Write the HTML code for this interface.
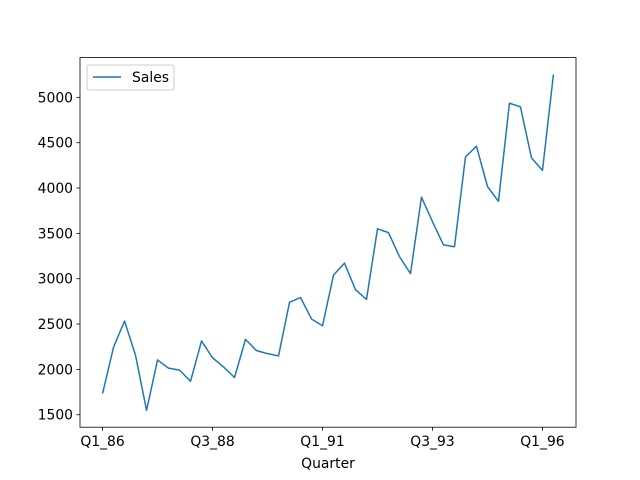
<!DOCTYPE html>
<html><head><meta charset="utf-8"><style>body{margin:0;background:#fff}svg{display:block;font-family:"DejaVu Sans","Liberation Sans",sans-serif}</style></head>
<body>
<svg id="chart" width="640" height="480">
<rect x="0" y="0" width="640" height="480" fill="#fff"/>
<g id="plot"></g>
</svg>
<script>
const categories = ["Q1_86","Q2_86","Q3_86","Q4_86","Q1_87","Q2_87","Q3_87","Q4_87","Q1_88","Q2_88","Q3_88","Q4_88","Q1_89","Q2_89","Q3_89","Q4_89","Q1_90","Q2_90","Q3_90","Q4_90","Q1_91","Q2_91","Q3_91","Q4_91","Q1_92","Q2_92","Q3_92","Q4_92","Q1_93","Q2_93","Q3_93","Q4_93","Q1_94","Q2_94","Q3_94","Q4_94","Q1_95","Q2_95","Q3_95","Q4_95","Q1_96","Q2_96"];
const sales = [1734.83,2244.96,2533.80,2154.96,1547.82,2104.41,2014.36,1991.75,1869.05,2313.63,2128.32,2026.83,1910.60,2331.16,2206.55,2173.97,2148.28,2739.31,2792.75,2556.01,2480.97,3039.52,3172.12,2879.00,2772.00,3550.00,3508.00,3243.86,3056.00,3899.00,3629.00,3373.00,3352.00,4342.00,4461.00,4017.00,3854.00,4936.00,4895.00,4333.00,4194.00,5253.00];
const yTicks = [1500,2000,2500,3000,3500,4000,4500,5000];
const xTickIdx = [0,10,20,30,40];

const L=80,R=576,T=57.6,B=427.2;
const n=categories.length;
const xmin=-(n-1)*0.05, xmax=(n-1)*1.05;
let ymn=Math.min(...sales), ymx=Math.max(...sales);
const pad=(ymx-ymn)*0.05; const ylo=ymn-pad, yhi=ymx+pad;
const xs=i=>L+(i-xmin)/(xmax-xmin)*(R-L);
const ys=v=>B-(v-ylo)/(yhi-ylo)*(B-T);
const NS="http://www.w3.org/2000/svg";
const g=document.getElementById('plot');
function mk(t,a,txt){const e=document.createElementNS(NS,t);for(const k in a)e.setAttribute(k,a[k]);if(txt!==undefined)e.textContent=txt;g.appendChild(e);return e;}

let d=sales.map((v,i)=>(i?'L':'M')+xs(i).toFixed(2)+','+ys(v).toFixed(2)).join('');
const line=mk('path',{d:d,fill:'none',stroke:'#1f77b4','stroke-width':1.5,'stroke-linejoin':'round'});



const frame=mk('rect',{x:L,y:T,width:R-L,height:B-T,fill:'none',stroke:'#000','stroke-width':0.8});



yTicks.forEach(v=>{const y=ys(v);
mk('line',{x1:L-3.5,x2:L,y1:y,y2:y,stroke:'#000','stroke-width':0.8});
const t=mk('text',{x:L-7,y:y+5,'text-anchor':'end','font-size':13.9},String(v));

});

xTickIdx.forEach(i=>{const x=xs(i);
mk('line',{x1:x,x2:x,y1:B,y2:B+3.5,stroke:'#000','stroke-width':0.8});
const t=mk('text',{x:x,y:B+19,'text-anchor':'middle','font-size':13.9},categories[i]);

});

const xt=mk('text',{x:(L+R)/2,y:468,'text-anchor':'middle','font-size':13.9},'Quarter');



const lg=mk('rect',{x:87,y:65,width:87,height:25,rx:2,fill:'#fff',stroke:'#ccc','stroke-width':1});


mk('line',{x1:93,x2:121,y1:77,y2:77,stroke:'#1f77b4','stroke-width':1.5});
const lt=mk('text',{x:132,y:82,'font-size':13.9},'Sales');


</script>
</body></html>
